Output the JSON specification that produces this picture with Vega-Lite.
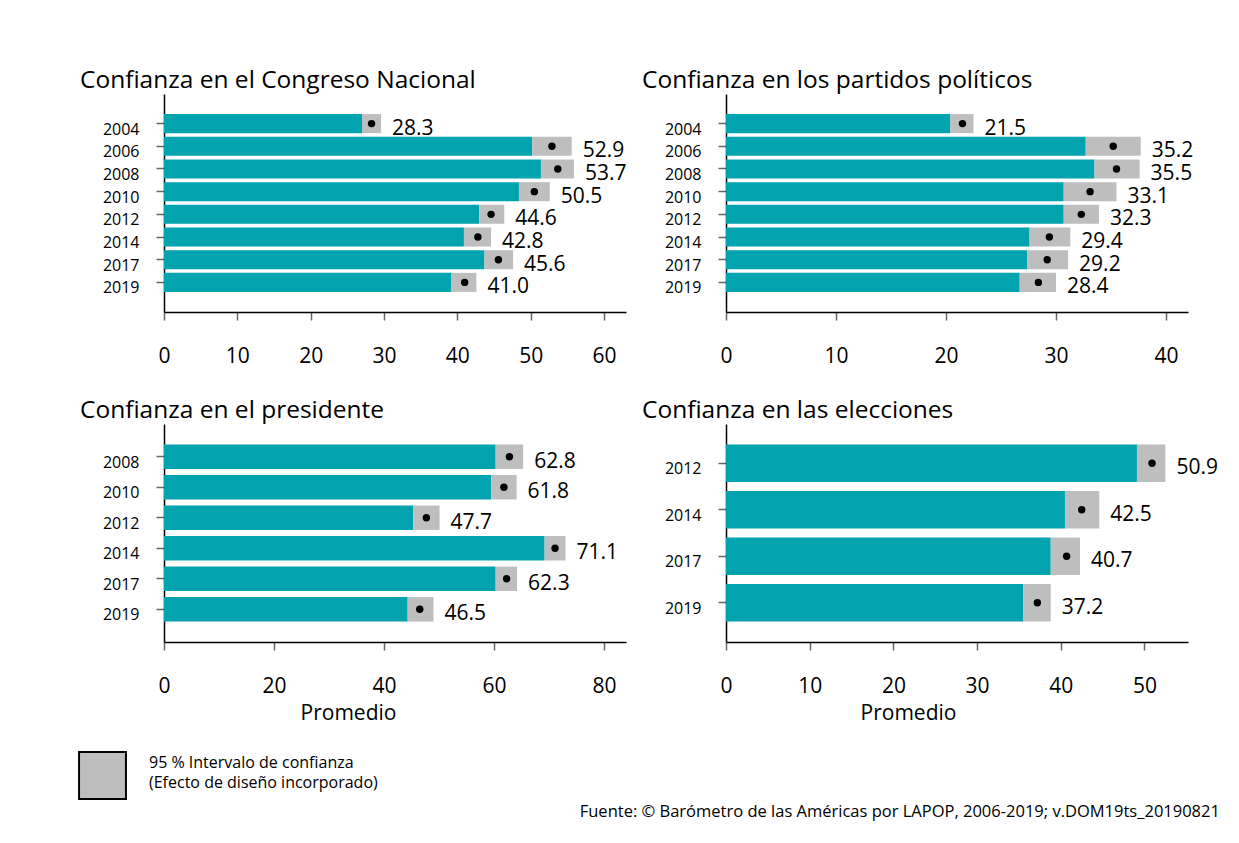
{
  "$schema": "https://vega.github.io/schema/vega-lite/v6.json",
  "padding": {"left": 78, "top": 67, "right": 5, "bottom": 5},
  "background": "white",
  "datasets": {
    "d": [
      {"panel": "congreso", "year": "2004", "mean": 28.3, "lo": 27.0, "hi": 29.6},
      {"panel": "congreso", "year": "2006", "mean": 52.9, "lo": 50.2, "hi": 55.6},
      {"panel": "congreso", "year": "2008", "mean": 53.7, "lo": 51.4, "hi": 55.9},
      {"panel": "congreso", "year": "2010", "mean": 50.5, "lo": 48.4, "hi": 52.6},
      {"panel": "congreso", "year": "2012", "mean": 44.6, "lo": 43.0, "hi": 46.4},
      {"panel": "congreso", "year": "2014", "mean": 42.8, "lo": 40.9, "hi": 44.6},
      {"panel": "congreso", "year": "2017", "mean": 45.6, "lo": 43.7, "hi": 47.6},
      {"panel": "congreso", "year": "2019", "mean": 41.0, "lo": 39.2, "hi": 42.6},
      {"panel": "partidos", "year": "2004", "mean": 21.5, "lo": 20.4, "hi": 22.5},
      {"panel": "partidos", "year": "2006", "mean": 35.2, "lo": 32.7, "hi": 37.7},
      {"panel": "partidos", "year": "2008", "mean": 35.5, "lo": 33.5, "hi": 37.6},
      {"panel": "partidos", "year": "2010", "mean": 33.1, "lo": 30.7, "hi": 35.5},
      {"panel": "partidos", "year": "2012", "mean": 32.3, "lo": 30.7, "hi": 33.9},
      {"panel": "partidos", "year": "2014", "mean": 29.4, "lo": 27.6, "hi": 31.3},
      {"panel": "partidos", "year": "2017", "mean": 29.2, "lo": 27.4, "hi": 31.1},
      {"panel": "partidos", "year": "2019", "mean": 28.4, "lo": 26.7, "hi": 30.0},
      {"panel": "presidente", "year": "2008", "mean": 62.8, "lo": 60.3, "hi": 65.3},
      {"panel": "presidente", "year": "2010", "mean": 61.8, "lo": 59.5, "hi": 64.1},
      {"panel": "presidente", "year": "2012", "mean": 47.7, "lo": 45.3, "hi": 50.1},
      {"panel": "presidente", "year": "2014", "mean": 71.1, "lo": 69.2, "hi": 73.0},
      {"panel": "presidente", "year": "2017", "mean": 62.3, "lo": 60.3, "hi": 64.2},
      {"panel": "presidente", "year": "2019", "mean": 46.5, "lo": 44.3, "hi": 49.0},
      {"panel": "elecciones", "year": "2012", "mean": 50.9, "lo": 49.1, "hi": 52.5},
      {"panel": "elecciones", "year": "2014", "mean": 42.5, "lo": 40.5, "hi": 44.6},
      {"panel": "elecciones", "year": "2017", "mean": 40.7, "lo": 38.8, "hi": 42.3},
      {"panel": "elecciones", "year": "2019", "mean": 37.2, "lo": 35.5, "hi": 38.8}
    ]
  },
  "title": {
    "text": "Fuente: © Barómetro de las Américas por LAPOP, 2006-2019; v.DOM19ts_20190821",
    "orient": "bottom", "anchor": "end", "frame": "bounds", "dx": 2, "dy": 0, "offset": 14,
    "baseline": "alphabetic", "fontSize": 16.5, "fontWeight": "normal", "color": "black"
  },
  "concat": [
    {
      "width": 462, "height": 218,
      "data": {"name": "d"},
      "transform": [{"filter": "datum.panel == 'congreso'"}],
      "title": {"text": "Confianza en el Congreso Nacional"},
      "encoding": {"y": {"field": "year", "type": "nominal", "scale": {"paddingInner": 0.16, "paddingOuter": 0.885}}},
      "layer": [
        {"mark": {"type": "bar", "color": "#00A3AE"},
         "encoding": {"x": {"field": "lo", "type": "quantitative", "scale": {"domain": [0, 63], "nice": false}, "axis": {"values": [0, 10, 20, 30, 40, 50, 60], "title": null}}}},
        {"mark": {"type": "bar"},
         "encoding": {"x": {"field": "lo", "type": "quantitative"}, "x2": {"field": "hi"},
           "color": {"datum": "95 % Intervalo de confianza", "type": "nominal", "scale": {"range": ["#BEBEBE"]}}}},
        {"mark": {"type": "point", "filled": true, "color": "black", "size": 55, "opacity": 1},
         "encoding": {"x": {"field": "mean", "type": "quantitative"}}},
        {"mark": {"type": "text", "align": "left", "baseline": "alphabetic", "dx": 11, "dy": 11, "fontSize": 21, "color": "black"},
         "encoding": {"x": {"field": "hi", "type": "quantitative"}, "text": {"field": "mean", "type": "quantitative", "format": ".1f"}}}
      ]
    },
    {
      "width": 462, "height": 218,
      "data": {"name": "d"},
      "transform": [{"filter": "datum.panel == 'partidos'"}],
      "title": {"text": "Confianza en los partidos políticos"},
      "encoding": {"y": {"field": "year", "type": "nominal", "scale": {"paddingInner": 0.16, "paddingOuter": 0.885}}},
      "layer": [
        {"mark": {"type": "bar", "color": "#00A3AE"},
         "encoding": {"x": {"field": "lo", "type": "quantitative", "scale": {"domain": [0, 42], "nice": false}, "axis": {"values": [0, 10, 20, 30, 40], "title": null}}}},
        {"mark": {"type": "bar"},
         "encoding": {"x": {"field": "lo", "type": "quantitative"}, "x2": {"field": "hi"},
           "color": {"datum": "95 % Intervalo de confianza", "type": "nominal", "scale": {"range": ["#BEBEBE"]}}}},
        {"mark": {"type": "point", "filled": true, "color": "black", "size": 55, "opacity": 1},
         "encoding": {"x": {"field": "mean", "type": "quantitative"}}},
        {"mark": {"type": "text", "align": "left", "baseline": "alphabetic", "dx": 11, "dy": 11, "fontSize": 21, "color": "black"},
         "encoding": {"x": {"field": "hi", "type": "quantitative"}, "text": {"field": "mean", "type": "quantitative", "format": ".1f"}}}
      ]
    },
    {
      "width": 462, "height": 218,
      "data": {"name": "d"},
      "transform": [{"filter": "datum.panel == 'presidente'"}],
      "title": {"text": "Confianza en el presidente"},
      "encoding": {"y": {"field": "year", "type": "nominal", "scale": {"paddingInner": 0.2, "paddingOuter": 0.67}}},
      "layer": [
        {"mark": {"type": "bar", "color": "#00A3AE"},
         "encoding": {"x": {"field": "lo", "type": "quantitative", "scale": {"domain": [0, 84], "nice": false}, "axis": {"values": [0, 20, 40, 60, 80], "title": "Promedio", "titleX": 184}}}},
        {"mark": {"type": "bar"},
         "encoding": {"x": {"field": "lo", "type": "quantitative"}, "x2": {"field": "hi"},
           "color": {"datum": "95 % Intervalo de confianza", "type": "nominal", "scale": {"range": ["#BEBEBE"]}}}},
        {"mark": {"type": "point", "filled": true, "color": "black", "size": 55, "opacity": 1},
         "encoding": {"x": {"field": "mean", "type": "quantitative"}}},
        {"mark": {"type": "text", "align": "left", "baseline": "alphabetic", "dx": 11, "dy": 11, "fontSize": 21, "color": "black"},
         "encoding": {"x": {"field": "hi", "type": "quantitative"}, "text": {"field": "mean", "type": "quantitative", "format": ".1f"}}}
      ]
    },
    {
      "width": 462, "height": 218,
      "data": {"name": "d"},
      "transform": [{"filter": "datum.panel == 'elecciones'"}],
      "title": {"text": "Confianza en las elecciones"},
      "encoding": {"y": {"field": "year", "type": "nominal", "scale": {"paddingInner": 0.19, "paddingOuter": 0.44}}},
      "layer": [
        {"mark": {"type": "bar", "color": "#00A3AE"},
         "encoding": {"x": {"field": "lo", "type": "quantitative", "scale": {"domain": [0, 55.2], "nice": false}, "axis": {"values": [0, 10, 20, 30, 40, 50], "title": "Promedio", "titleX": 182}}}},
        {"mark": {"type": "bar"},
         "encoding": {"x": {"field": "lo", "type": "quantitative"}, "x2": {"field": "hi"},
           "color": {"datum": "95 % Intervalo de confianza", "type": "nominal", "scale": {"range": ["#BEBEBE"]},
             "legend": {"orient": "none", "legendX": -86, "legendY": 657, "title": null, "symbolType": "square", "symbolSize": 2200,
               "symbolStrokeColor": "black", "symbolStrokeWidth": 2, "symbolOffset": 0, "padding": 0,
               "labelFontSize": 16, "labelOffset": 22, "labelColor": "black", "labelLimit": 0,
               "labelExpr": "['95 % Intervalo de confianza', '(Efecto de diseño incorporado)']",
               "encode": {"labels": {"update": {"dy": {"value": -13}, "lineHeight": {"value": 20}}}}}}}},
        {"mark": {"type": "point", "filled": true, "color": "black", "size": 55, "opacity": 1},
         "encoding": {"x": {"field": "mean", "type": "quantitative"}}},
        {"mark": {"type": "text", "align": "left", "baseline": "alphabetic", "dx": 11, "dy": 11, "fontSize": 21, "color": "black"},
         "encoding": {"x": {"field": "hi", "type": "quantitative"}, "text": {"field": "mean", "type": "quantitative", "format": ".1f"}}}
      ]
    }
  ],
  "columns": 2,
  "spacing": {"row": 112, "column": 100},
  "bounds": "flush",
  "resolve": {"scale": {"x": "independent", "y": "independent"}},
  "config": {
    "font": "Open Sans",
    "view": {"stroke": null},
    "title": {"anchor": "start", "frame": "group", "dx": -84, "offset": 1, "baseline": "alphabetic", "fontSize": 24.5, "fontWeight": "normal", "color": "black"},
    "axisX": {"domainColor": "black", "domainWidth": 1.5, "tickColor": "#666666", "tickWidth": 1.5, "tickSize": 8, "grid": false,
      "labelFontSize": 21, "labelColor": "black", "labelBaseline": "alphabetic", "labelPadding": 42, "labelFlush": false,
      "titleFontSize": 21, "titleFontWeight": "normal", "titleColor": "black", "titleY": 77, "titleBaseline": "alphabetic"},
    "axisY": {"domainColor": "black", "domainWidth": 1.5, "tickColor": "#666666", "tickWidth": 1.5, "tickSize": 8, "grid": false,
      "labelFontSize": 16, "labelColor": "black", "labelBaseline": "alphabetic", "labelOffset": 11, "labelPadding": 17, "title": null}
  }
}
